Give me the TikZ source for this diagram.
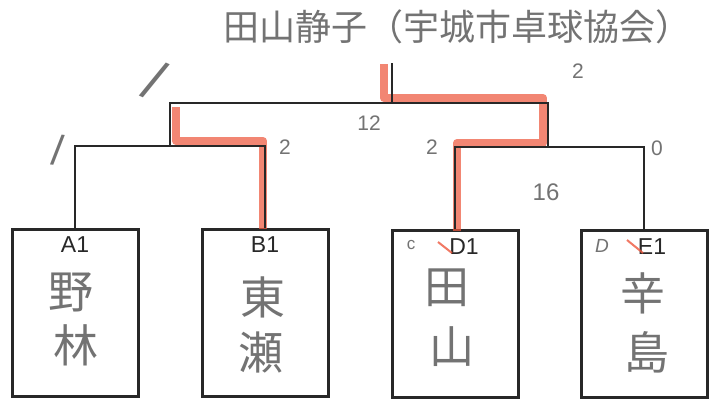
\documentclass[tikz,border=0pt]{standalone}
\usepackage{fontspec}
\setmainfont{Liberation Sans}
\newfontfamily\cjk{Noto Sans CJK JP}
\definecolor{ink}{RGB}{40,40,40}
\definecolor{pencil}{RGB}{115,115,115}
\definecolor{marker}{RGB}{238,88,62}
\begin{document}
\begin{tikzpicture}[x=1pt,y=-1pt,
  box/.style={draw=ink, line width=3pt, minimum width=126pt, minimum height=167pt, inner sep=0pt},
  wire/.style={draw=ink, line width=2.8pt},
  hilite/.style={draw=marker, line width=8pt, opacity=0.72, line join=round},
  strike/.style={draw=marker, line width=2pt, opacity=0.8},
  lbl/.style={font=\fontsize{23}{23}\selectfont, text=ink, inner sep=0pt},
  hand/.style={font=\fontsize{21}{21}\selectfont, text=pencil, inner sep=0pt},
  kanji/.style={font=\cjk\fontsize{45}{45}\selectfont, text=pencil, inner sep=0pt},
  titletext/.style={font=\cjk\fontsize{36}{36}\selectfont, text=pencil, inner sep=0pt}
]
\useasboundingbox[fill=white] (0,0) rectangle (717,399);

% title
\node[titletext] (title) at (457,27) {田山静子（宇城市卓球協会）};

% boxes
\node[box] (a) at (75,313) {};
\node[box] (b) at (265,313) {};
\node[box] (d) at (455,314) {};
\node[box] (e) at (644,314) {};

% bracket points
\coordinate (ab) at (170,146);
\coordinate (de) at (548,147);
\coordinate (root) at (392,103);
\coordinate (top) at (392,63);

% highlights (drawn under the lines)
\draw[hilite] (263,229) -- (263,141) -- (176,141) -- (176,107);
\draw[hilite] (457,231) -- (457,143) -- (543,143) -- (543,98) -- (384,98) -- (384,64);

% bracket lines
\draw[wire] (a.north) |- (ab) -| (b.north);
\draw[wire] (d.north) |- (de) -| (e.north);
\draw[wire] (ab) |- (root) -| (de);
\draw[wire] (root) -- (top);

% box labels
\node[lbl] (la) at (75,245) {A1};
\node[lbl] (lb) at (265,245) {B1};
\node[lbl] (ld) at (464,247) {D1};
\node[lbl] (le) at (652,247) {E1};
\node[hand, font=\fontsize{17}{17}\selectfont] (lc) at (411,245) {c};
\node[hand, font=\fontsize{19}{19}\selectfont\itshape] (lD) at (602,246) {D};
\draw[strike] (438,242) -- (452,253);
\draw[strike] (627,240) -- (643,253);

% names
\node[kanji] (n1) at (71,292) {野};
\node[kanji] (n2) at (76,345) {林};
\node[kanji] (n3) at (263,297) {東};
\node[kanji] (n4) at (261,352) {瀬};
\node[kanji] (n5) at (447,288) {田};
\node[kanji] (n6) at (452,347) {山};
\node[kanji] (n7) at (643,293) {辛};
\node[kanji] (n8) at (647,352) {島};

% scores
\node[hand, font=\fontsize{56}{56}\selectfont, rotate=-24] (s1) at (155,80) {/};
\node[hand, font=\fontsize{42}{42}\selectfont, rotate=-6] (s2) at (58,150) {/};
\node[hand] (s3) at (285,147) {2};
\node[hand] (s4) at (369,123) {12};
\node[hand] (s5) at (578,71) {2};
\node[hand] (s6) at (432,147) {2};
\node[hand] (s7) at (657,148) {0};
\node[hand, font=\fontsize{24}{24}\selectfont] (s8) at (546,192) {16};
\end{tikzpicture}
\end{document}
